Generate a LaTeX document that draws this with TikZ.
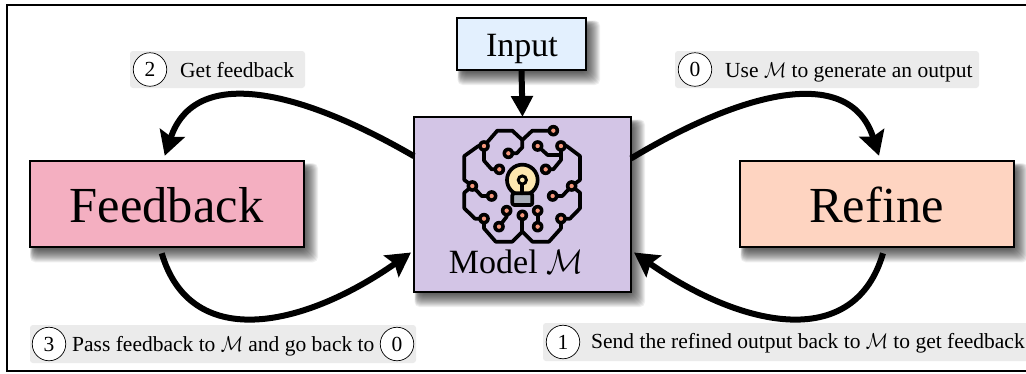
\RequirePackage{fix-cm}
\documentclass[tikz,border=0pt]{standalone}
\usepackage{fontspec}
\setmainfont{Liberation Serif}
\usetikzlibrary{arrows.meta,calc,backgrounds}
\definecolor{inputc}{HTML}{E3F0FE}
\definecolor{modelc}{HTML}{D3C5E6}
\definecolor{fbc}{HTML}{F4AFC1}
\definecolor{refc}{HTML}{FED4C1}
\definecolor{tagc}{HTML}{EBEBEB}
\definecolor{dotc}{HTML}{F4967A}
\definecolor{bulbc}{HTML}{FDE7B0}
\definecolor{basec}{HTML}{A8ADB8}
\tikzset{
  boxn/.style={draw=black,line width=2pt,inner sep=0pt,outer sep=0pt,align=center},
  tag/.style={fill=tagc,rounded corners=3pt,inner sep=0pt,outer sep=0pt},
  num/.style={circle,draw=black,fill=white,line width=0.7pt,minimum size=33.5pt,inner sep=0pt,font=\fontsize{21.5}{24}\selectfont},
  tagtext/.style={anchor=base west,inner sep=0pt,font=\fontsize{21.5}{24}\selectfont},
  bigtext/.style={anchor=base,inner sep=0pt,font=\fontsize{50.5}{56}\selectfont},
  midtext/.style={anchor=base,inner sep=0pt,font=\fontsize{34}{38}\selectfont},
  flow/.style={line width=6pt,-{Stealth[length=24pt,width=26pt,inset=4pt]}},
  straightflow/.style={line width=6pt,-{Triangle[length=21pt,width=21pt]}},
  wire/.style={line width=3.7pt,line join=round,line cap=round},
}
\newcommand{\calM}{\scalebox{0.86}[1]{$\mathcal{M}$}}
\newcommand{\softshadow}[1]{%
  \foreach \s in {10,9,8,7,6,5,4,3,2,1,0,-1,-2,-3}{%
    \fill[black,opacity=0.062,rounded corners=5pt]
      ($(#1.north west)+(4-0.35*\s,6-0.35*\s)$) rectangle ($(#1.south east)+(4+\s,5+\s)$);
  }%
}
\newcommand{\dotat}[1]{\fill[black] #1 circle (17.5); \fill[dotc] #1 circle (6.5);}
\begin{document}
\begin{tikzpicture}[x=1pt,y=-1pt]
\useasboundingbox (0,0) rectangle (1026,373);
% boxes
\node[boxn,fill=inputc,minimum width=129pt,minimum height=52pt] (input) at (521.5,44) {};
\node[boxn,fill=modelc,minimum width=217pt,minimum height=175pt] (model) at (522.5,204.5) {};
\node[boxn,fill=fbc,minimum width=274.5pt,minimum height=86.5pt] (feedback) at (166.75,204) {};
\node[boxn,fill=refc,minimum width=274pt,minimum height=86.5pt] (refine) at (877,204) {};
\begin{scope}[on background layer]
  \fill[white] (0,0) rectangle (1026,373);
  \softshadow{input}\softshadow{model}\softshadow{feedback}\softshadow{refine}
\end{scope}
\draw[black,line width=2pt] (1030,4.5) -- (7,4.5) -- (7,371) -- (1030,371);
% box texts
\node[bigtext] (tfb) at (166.5,222.7) {Feedback};
\node[bigtext] (trf) at (876.5,222.7) {Refine};
\node[midtext] (tin) at (522,56.7) {Input};
\node[midtext] (tmd) at (516,273) {Model {\scalebox{1.05}[1]{\calM}}};
% icon
\begin{scope}[shift={(455,120)},x=0.3333pt,y=-0.3333pt]
  \draw[wire] (87,78)--(127,32)--(172,32)--(202,60)--(202,82)--(185,100)--(160,100);
  \draw[wire] (295,32)--(232,32)--(202,60);
  \draw[wire] (87,78)--(70,78)--(28,108)--(28,180)--(52,198)--(80,228)--(110,228);
  \draw[wire] (52,198)--(28,218)--(28,265)--(60,296)--(87,296)--(87,325)--(122,365)--(172,365)--(202,335)--(232,365)--(282,365)--(318,325)--(318,296)--(345,296)--(375,265)--(375,218)--(350,198)--(322,228)--(293,228);
  \draw[wire] (350,198)--(375,180)--(375,108)--(335,78)--(318,78);
  \draw[wire] (87,78)--(87,122)--(110,148)--(133,148);
  \draw[wire] (248,78)--(278,105)--(318,105);
  \draw[wire] (318,78)--(318,120)--(295,148)--(272,148);
  \draw[wire] (202,286)--(202,335);
  \draw[wire] (155,272)--(155,290)--(132,320);
  \draw[wire] (248,272)--(248,320);
  \foreach \p in {(295,32),(87,78),(160,100),(248,78),(318,78),(133,148),(272,148),(52,198),(110,228),(350,198),(293,228),(155,272),(132,320),(202,286),(248,272),(248,320),(87,296),(318,296)}{\dotat{\p}}
  \draw[wire,fill=bulbc] (202,180) circle (46);
  \draw[wire,fill=basec,rounded corners=2pt] (172,220) rectangle (232,255);
  \draw[wire] (202,180)--(202,220);
  \fill[black] (202,180) circle (17);
  \fill[bulbc] (202,180) circle (7);
\end{scope}
% arrows
\draw[straightflow] (input.south) -- (model.north);
\draw[flow] (model.156.4) .. controls (300,90) and (195,65) .. ($(feedback.north)+(-2,-5)$);
\draw[flow] (model.23.6) .. controls (745,90) and (850,65) .. ($(refine.north)+(2,-5)$);
\draw[flow] ($(feedback.south)+(-5,6)$) .. controls (190,350) and (300,330) .. ($(model.west)+(-3,48)$);
\draw[flow] ($(refine.south)+(6,6)$) .. controls (855,350) and (745,330) .. ($(model.east)+(3,48)$);
% tags
\node[tag,minimum width=175pt,minimum height=37pt] (tag2) at (217.5,69.5) {};
\node[tag,minimum width=304pt,minimum height=37pt] (tag0) at (827,69.5) {};
\node[tag,minimum width=386pt,minimum height=38pt] (tag3) at (223,344) {};
\node[tag,minimum width=486pt,minimum height=38pt] (tag1) at (786,342) {};
\node[num] (n2) at (150,69.5) {2};
\node[num] (n0) at (695,69.5) {0};
\node[num] (n3) at (49,344) {3};
\node[num] (n0b) at (397,344) {0};
\node[num] (n1) at (563,342) {1};
\node[tagtext] (t2) at (180,77) {Get feedback};
\node[tagtext] (t0) at (725,77) {Use \calM{} to generate an output};
\node[tagtext] (t3) at (72,351) {Pass feedback to \calM{} and go back to};
\node[tagtext] (t1) at (591,348) {Send the refined output back to \calM{} to get feedback};
\end{tikzpicture}
\end{document}
